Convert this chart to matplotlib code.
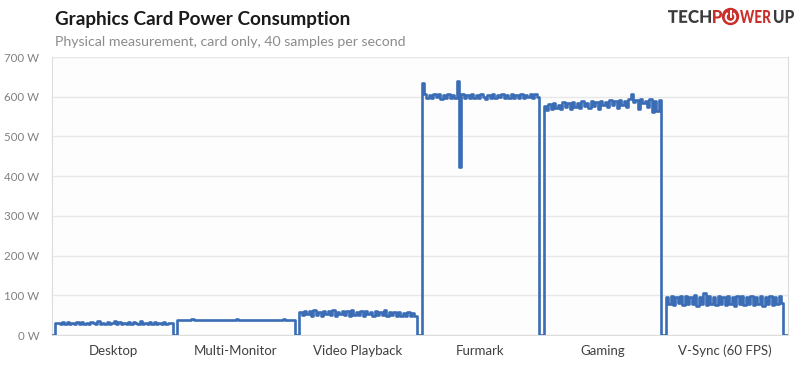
import matplotlib
matplotlib.use("Agg")
import matplotlib.pyplot as plt
import matplotlib.patches as mpatches
from matplotlib.transforms import IdentityTransform, Affine2D
from matplotlib.textpath import TextPath
from matplotlib.font_manager import FontProperties
import numpy as np

plt.rcParams['font.family'] = ['Lato', 'DejaVu Sans']

categories = ['Desktop', 'Multi-Monitor', 'Video Playback', 'Furmark', 'Gaming', 'V-Sync (60 FPS)']

# power readings in W
desktop = [29, 31, 27, 32, 28, 33, 27, 31, 28, 32, 27, 33, 28, 31, 27, 32, 29, 28, 34, 27,
           31, 28, 32, 27, 31, 34, 28, 32, 27, 31, 28, 33, 27, 32, 29, 28, 34, 27, 31, 28,
           32, 27, 33, 28, 31, 27, 32, 28, 31, 29]
multi_monitor = [37, 37, 38, 37, 37, 37, 40, 37, 37, 37, 37, 38, 37, 37, 37, 37, 39, 37, 37, 37,
                 37, 37, 38, 37, 37, 40, 37, 37, 37, 37, 37, 38, 37, 37, 37, 39, 37, 37, 37, 37,
                 37, 38, 37, 37, 37, 40, 37, 37, 37, 37]
video = [58, 50, 61, 52, 60, 49, 62, 51, 59, 48, 61, 53, 60, 50, 62, 49, 59, 52, 61, 50,
         60, 48, 62, 51, 59, 50, 61, 49, 60, 52, 58, 48, 61, 50, 59, 51, 62, 49, 58, 50,
         57, 48, 59, 49, 56, 47, 57, 48, 55, 47]
furmark = [635, 607, 598, 605, 596, 607, 599, 606, 595, 605, 598, 608, 597, 604, 598, 640, 424, 606, 598, 605,
           596, 607, 598, 604, 597, 606, 599, 595, 605, 598, 607, 597, 604, 599, 606, 596, 605, 598, 608, 597,
           604, 598, 606, 596, 605, 599, 607, 598, 608, 600]
gaming = [576, 566, 582, 570, 584, 572, 580, 568, 586, 574, 583, 570, 587, 575, 584, 571, 588, 576, 585, 572,
          589, 577, 586, 570, 590, 578, 587, 573, 591, 579, 588, 571, 592, 580, 589, 574, 593, 606, 586, 591,
          570, 594, 584, 590, 575, 593, 561, 589, 564, 592]
vsync = [95, 78, 98, 76, 96, 80, 99, 75, 97, 77, 95, 79, 100, 74, 96, 78, 106, 76, 97, 79,
         95, 75, 99, 78, 96, 76, 98, 77, 95, 73, 97, 79, 99, 75, 96, 78, 98, 76, 95, 79,
         97, 74, 96, 78, 99, 76, 95, 77, 97, 80]

y_ticks = [0, 100, 200, 300, 400, 500, 600, 700]

segments = [desktop, multi_monitor, video, furmark, gaming, vsync]

# card idles at 0 between the test runs
power = [0, 0]
centers = []
for seg in segments:
    start = len(power)
    power += seg + [0, 0]
    centers.append(start + (len(seg) - 1) / 2)
samples = np.arange(len(power))

fig = plt.figure(figsize=(8, 3.66), dpi=100)
ax = fig.add_axes([52 / 800, 1 - 335 / 366, (788 - 52) / 800, (335 - 57) / 366])
ax.set_facecolor('#fdfdfd')

ax.plot(samples, power, color='#3a6db5', lw=1.9, drawstyle='steps-mid', zorder=3)

ax.set_xlim(0.2, len(power) - 0.5)
ax.set_ylim(0, 700)
ax.set_yticks(y_ticks)
ax.set_yticklabels([f'{v} W' for v in y_ticks])
ax.set_xticks(centers)
ax.set_xticklabels(categories)
ax.tick_params(axis='y', length=0, pad=9, labelsize=8.3, labelcolor='#808080')
ax.tick_params(axis='x', length=0, pad=7, labelsize=9.5, labelcolor='#404040')
ax.yaxis.grid(True, color='#e8e8e8', lw=1)
ax.set_axisbelow(True)
for side in ['left', 'right', 'bottom']:
    ax.spines[side].set_color('#dcdcdc')
ax.spines['top'].set_visible(False)

fig.text(55 / 800, 1 - 20 / 366, 'Graphics Card Power Consumption', fontsize=13.6,
         weight='bold', color='#1a1a1a', va='center')
fig.text(55 / 800, 1 - 42 / 366, 'Physical measurement, card only, 40 samples per second',
         fontsize=10.2, color='#8c8c8c', va='center')

# TechPowerUp logo, letters squeezed into the reference box
logo_font = FontProperties(family='Lato', weight='black')
cap_bottom = 366 - 23
cap_height = 13


def logo_word(s, x0, x1, color):
    tp = TextPath((0, 0), s, size=18, prop=logo_font)
    bb = tp.get_extents()
    tr = (Affine2D().translate(-bb.x0, -bb.y0)
          .scale((x1 - x0) / bb.width, cap_height / bb.height)
          .translate(x0, cap_bottom))
    fig.add_artist(mpatches.PathPatch(tr.transform_path(tp), color=color, lw=0,
                                      transform=IdentityTransform()))


logo_word('TECH', 668, 711, '#3b3b3b')
logo_word('P', 713, 722, '#c9302c')
cx, cy, r = 730.5, 366 - 16.5, 8
fig.add_artist(mpatches.Circle((cx, cy), r, color='#c9302c', transform=IdentityTransform()))
fig.add_artist(mpatches.Arc((cx, cy - 0.5), 9.5, 9.5, theta1=125, theta2=55, color='white', lw=1.4,
                            transform=IdentityTransform()))
fig.add_artist(plt.Line2D([cx, cx], [cy, cy + 6], color='white', lw=1.4, transform=IdentityTransform()))
logo_word('WER', 740, 771, '#c9302c')
logo_word('UP', 774, 794, '#3b3b3b')

fig.savefig('out.png', dpi=100)
